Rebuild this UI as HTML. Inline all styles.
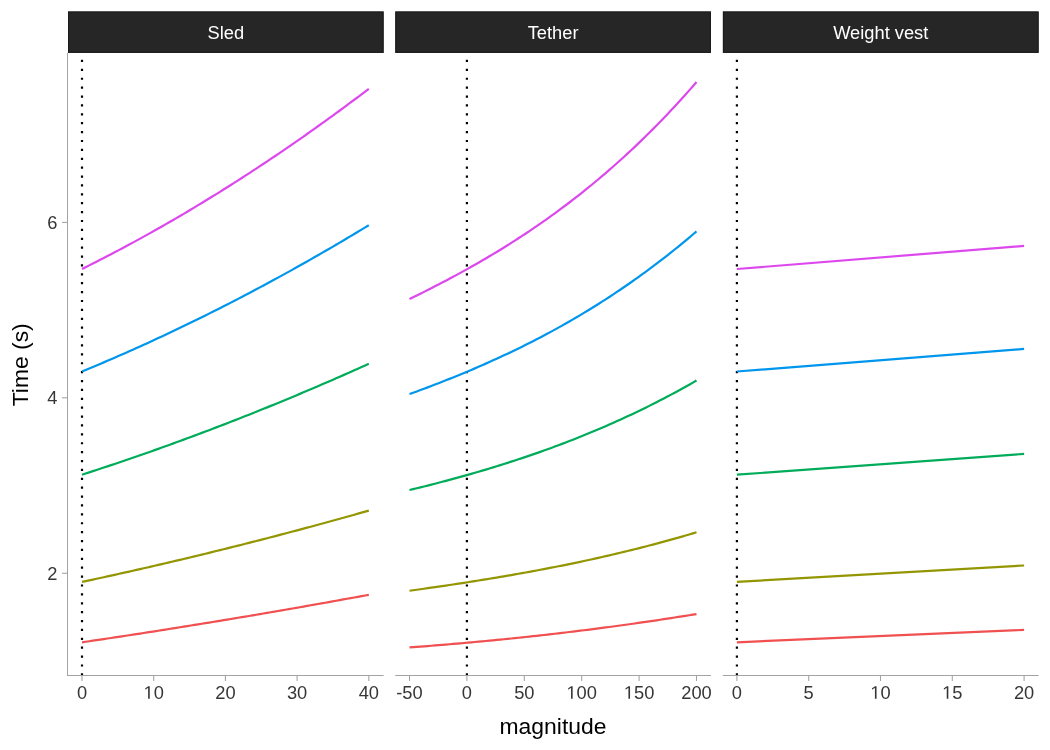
<!DOCTYPE html><html><head><meta charset="utf-8"><style>html,body{margin:0;padding:0;background:#fff;}svg{display:block;will-change:transform;}text{font-family:"Liberation Sans",sans-serif;}</style></head><body>
<svg width="1050" height="750" viewBox="0 0 1050 750">
<rect x="0" y="0" width="1050" height="750" fill="#fff"/>
<rect x="68.0" y="11.5" width="315.60" height="41.35" fill="#262626"/>
<rect x="68.5" y="12.0" width="314.60" height="40.35" fill="none" stroke="#1a1a1a" stroke-width="1"/>
<text x="225.80" y="38.8" font-size="18.3" fill="#ffffff" text-anchor="middle">Sled</text>
<clipPath id="c0"><rect x="68.0" y="52.85" width="315.60" height="622.65"/></clipPath>
<g clip-path="url(#c0)">
<path d="M82.0,675.5 L82.0,53.3" stroke="#000" stroke-width="2.2" stroke-dasharray="2.22 6.67" fill="none"/>
<path d="M82.00,642.30 L85.63,641.77 L89.26,641.23 L92.89,640.69 L96.52,640.15 L100.15,639.61 L103.78,639.07 L107.41,638.53 L111.04,637.98 L114.67,637.43 L118.30,636.88 L121.93,636.33 L125.56,635.78 L129.19,635.23 L132.83,634.67 L136.46,634.11 L140.09,633.55 L143.72,632.99 L147.35,632.43 L150.98,631.86 L154.61,631.30 L158.24,630.73 L161.87,630.16 L165.50,629.59 L169.13,629.01 L172.76,628.44 L176.39,627.86 L180.02,627.28 L183.65,626.70 L187.28,626.12 L190.91,625.53 L194.54,624.95 L198.17,624.36 L201.80,623.77 L205.43,623.18 L209.06,622.59 L212.69,621.99 L216.32,621.40 L219.95,620.80 L223.58,620.20 L227.22,619.60 L230.85,619.00 L234.48,618.39 L238.11,617.78 L241.74,617.18 L245.37,616.57 L249.00,615.96 L252.63,615.34 L256.26,614.73 L259.89,614.11 L263.52,613.49 L267.15,612.87 L270.78,612.25 L274.41,611.63 L278.04,611.00 L281.67,610.37 L285.30,609.74 L288.93,609.11 L292.56,608.48 L296.19,607.85 L299.82,607.21 L303.45,606.57 L307.08,605.93 L310.71,605.29 L314.34,604.65 L317.97,604.01 L321.61,603.36 L325.24,602.71 L328.87,602.06 L332.50,601.41 L336.13,600.76 L339.76,600.10 L343.39,599.44 L347.02,598.79 L350.65,598.13 L354.28,597.46 L357.91,596.80 L361.54,596.14 L365.17,595.47 L368.80,594.80" stroke="#F05050" stroke-width="2.2" fill="none" stroke-linejoin="round"/>
<path d="M82.00,581.90 L85.63,581.12 L89.26,580.35 L92.89,579.57 L96.52,578.78 L100.15,577.99 L103.78,577.20 L107.41,576.41 L111.04,575.61 L114.67,574.81 L118.30,574.00 L121.93,573.19 L125.56,572.38 L129.19,571.57 L132.83,570.75 L136.46,569.93 L140.09,569.11 L143.72,568.28 L147.35,567.45 L150.98,566.62 L154.61,565.78 L158.24,564.94 L161.87,564.09 L165.50,563.25 L169.13,562.40 L172.76,561.54 L176.39,560.69 L180.02,559.83 L183.65,558.96 L187.28,558.10 L190.91,557.23 L194.54,556.35 L198.17,555.48 L201.80,554.60 L205.43,553.71 L209.06,552.83 L212.69,551.94 L216.32,551.05 L219.95,550.15 L223.58,549.25 L227.22,548.35 L230.85,547.44 L234.48,546.53 L238.11,545.62 L241.74,544.71 L245.37,543.79 L249.00,542.86 L252.63,541.94 L256.26,541.01 L259.89,540.08 L263.52,539.14 L267.15,538.20 L270.78,537.26 L274.41,536.32 L278.04,535.37 L281.67,534.42 L285.30,533.46 L288.93,532.51 L292.56,531.54 L296.19,530.58 L299.82,529.61 L303.45,528.64 L307.08,527.67 L310.71,526.69 L314.34,525.71 L317.97,524.72 L321.61,523.74 L325.24,522.74 L328.87,521.75 L332.50,520.75 L336.13,519.75 L339.76,518.75 L343.39,517.74 L347.02,516.73 L350.65,515.72 L354.28,514.70 L357.91,513.68 L361.54,512.66 L365.17,511.63 L368.80,510.60" stroke="#939600" stroke-width="2.2" fill="none" stroke-linejoin="round"/>
<path d="M82.00,474.70 L85.63,473.53 L89.26,472.35 L92.89,471.17 L96.52,469.98 L100.15,468.78 L103.78,467.58 L107.41,466.38 L111.04,465.16 L114.67,463.94 L118.30,462.72 L121.93,461.49 L125.56,460.25 L129.19,459.01 L132.83,457.76 L136.46,456.50 L140.09,455.24 L143.72,453.98 L147.35,452.70 L150.98,451.43 L154.61,450.14 L158.24,448.85 L161.87,447.55 L165.50,446.25 L169.13,444.94 L172.76,443.63 L176.39,442.31 L180.02,440.98 L183.65,439.65 L187.28,438.31 L190.91,436.97 L194.54,435.62 L198.17,434.26 L201.80,432.90 L205.43,431.53 L209.06,430.16 L212.69,428.78 L216.32,427.39 L219.95,426.00 L223.58,424.60 L227.22,423.20 L230.85,421.79 L234.48,420.37 L238.11,418.95 L241.74,417.52 L245.37,416.09 L249.00,414.65 L252.63,413.20 L256.26,411.75 L259.89,410.29 L263.52,408.83 L267.15,407.36 L270.78,405.89 L274.41,404.41 L278.04,402.92 L281.67,401.43 L285.30,399.93 L288.93,398.42 L292.56,396.91 L296.19,395.39 L299.82,393.87 L303.45,392.34 L307.08,390.81 L310.71,389.26 L314.34,387.72 L317.97,386.17 L321.61,384.61 L325.24,383.04 L328.87,381.47 L332.50,379.89 L336.13,378.31 L339.76,376.72 L343.39,375.13 L347.02,373.53 L350.65,371.92 L354.28,370.31 L357.91,368.69 L361.54,367.07 L365.17,365.44 L368.80,363.80" stroke="#00AC5A" stroke-width="2.2" fill="none" stroke-linejoin="round"/>
<path d="M82.00,371.50 L85.63,370.00 L89.26,368.49 L92.89,366.97 L96.52,365.45 L100.15,363.91 L103.78,362.37 L107.41,360.81 L111.04,359.25 L114.67,357.68 L118.30,356.10 L121.93,354.51 L125.56,352.91 L129.19,351.30 L132.83,349.69 L136.46,348.06 L140.09,346.42 L143.72,344.78 L147.35,343.13 L150.98,341.47 L154.61,339.79 L158.24,338.11 L161.87,336.42 L165.50,334.73 L169.13,333.02 L172.76,331.30 L176.39,329.58 L180.02,327.84 L183.65,326.10 L187.28,324.35 L190.91,322.59 L194.54,320.81 L198.17,319.04 L201.80,317.25 L205.43,315.45 L209.06,313.64 L212.69,311.83 L216.32,310.00 L219.95,308.17 L223.58,306.32 L227.22,304.47 L230.85,302.61 L234.48,300.74 L238.11,298.86 L241.74,296.97 L245.37,295.08 L249.00,293.17 L252.63,291.26 L256.26,289.33 L259.89,287.40 L263.52,285.46 L267.15,283.51 L270.78,281.55 L274.41,279.58 L278.04,277.60 L281.67,275.61 L285.30,273.61 L288.93,271.61 L292.56,269.59 L296.19,267.57 L299.82,265.54 L303.45,263.50 L307.08,261.44 L310.71,259.39 L314.34,257.32 L317.97,255.24 L321.61,253.15 L325.24,251.06 L328.87,248.95 L332.50,246.84 L336.13,244.71 L339.76,242.58 L343.39,240.44 L347.02,238.29 L350.65,236.13 L354.28,233.96 L357.91,231.79 L361.54,229.60 L365.17,227.40 L368.80,225.20" stroke="#0096ED" stroke-width="2.2" fill="none" stroke-linejoin="round"/>
<path d="M82.00,269.00 L85.63,267.19 L89.26,265.38 L92.89,263.55 L96.52,261.70 L100.15,259.85 L103.78,257.98 L107.41,256.10 L111.04,254.21 L114.67,252.31 L118.30,250.39 L121.93,248.46 L125.56,246.52 L129.19,244.57 L132.83,242.61 L136.46,240.63 L140.09,238.64 L143.72,236.64 L147.35,234.63 L150.98,232.60 L154.61,230.56 L158.24,228.51 L161.87,226.45 L165.50,224.38 L169.13,222.29 L172.76,220.19 L176.39,218.08 L180.02,215.96 L183.65,213.83 L187.28,211.68 L190.91,209.52 L194.54,207.35 L198.17,205.17 L201.80,202.97 L205.43,200.76 L209.06,198.54 L212.69,196.31 L216.32,194.06 L219.95,191.81 L223.58,189.54 L227.22,187.26 L230.85,184.96 L234.48,182.66 L238.11,180.34 L241.74,178.01 L245.37,175.67 L249.00,173.32 L252.63,170.95 L256.26,168.57 L259.89,166.18 L263.52,163.78 L267.15,161.36 L270.78,158.94 L274.41,156.50 L278.04,154.05 L281.67,151.58 L285.30,149.11 L288.93,146.62 L292.56,144.12 L296.19,141.60 L299.82,139.08 L303.45,136.54 L307.08,133.99 L310.71,131.43 L314.34,128.86 L317.97,126.27 L321.61,123.68 L325.24,121.07 L328.87,118.45 L332.50,115.81 L336.13,113.17 L339.76,110.51 L343.39,107.84 L347.02,105.15 L350.65,102.46 L354.28,99.75 L357.91,97.03 L361.54,94.30 L365.17,91.56 L368.80,88.80" stroke="#DD48EE" stroke-width="2.2" fill="none" stroke-linejoin="round"/>
</g>
<rect x="67" y="675" width="316.60" height="1" fill="#a3a3a3"/>
<line x1="82.0" y1="675.5" x2="82.0" y2="681" stroke="#a3a3a3" stroke-width="1.07"/>
<text x="82.0" y="698.80" font-size="18.3" fill="#363636" text-anchor="middle">0</text>
<line x1="153.7" y1="675.5" x2="153.7" y2="681" stroke="#a3a3a3" stroke-width="1.07"/>
<path d="M515,0 L515,1237 L197,1010 L197,1180 L530,1409 L696,1409 L696,0 Z" fill="#363636" transform="translate(143.522,698.80) scale(0.008936,-0.008936)"/><text x="153.700" y="698.80" font-size="18.3" fill="#363636">0</text>
<line x1="225.4" y1="675.5" x2="225.4" y2="681" stroke="#a3a3a3" stroke-width="1.07"/>
<text x="225.4" y="698.80" font-size="18.3" fill="#363636" text-anchor="middle">20</text>
<line x1="297.1" y1="675.5" x2="297.1" y2="681" stroke="#a3a3a3" stroke-width="1.07"/>
<text x="297.1" y="698.80" font-size="18.3" fill="#363636" text-anchor="middle">30</text>
<line x1="368.8" y1="675.5" x2="368.8" y2="681" stroke="#a3a3a3" stroke-width="1.07"/>
<text x="368.8" y="698.80" font-size="18.3" fill="#363636" text-anchor="middle">40</text>
<rect x="395.3" y="11.5" width="315.60" height="41.35" fill="#262626"/>
<rect x="395.8" y="12.0" width="314.60" height="40.35" fill="none" stroke="#1a1a1a" stroke-width="1"/>
<text x="553.10" y="38.8" font-size="18.3" fill="#ffffff" text-anchor="middle">Tether</text>
<clipPath id="c1"><rect x="395.3" y="52.85" width="315.60" height="622.65"/></clipPath>
<g clip-path="url(#c1)">
<path d="M466.9,675.5 L466.9,53.3" stroke="#000" stroke-width="2.2" stroke-dasharray="2.22 6.67" fill="none"/>
<path d="M409.50,647.42 L413.13,647.15 L416.77,646.87 L420.40,646.60 L424.03,646.32 L427.66,646.03 L431.30,645.75 L434.93,645.46 L438.56,645.16 L442.20,644.86 L445.83,644.56 L449.46,644.26 L453.09,643.95 L456.73,643.64 L460.36,643.32 L463.99,643.00 L467.63,642.68 L471.26,642.35 L474.89,642.02 L478.53,641.68 L482.16,641.35 L485.79,641.00 L489.42,640.66 L493.06,640.31 L496.69,639.95 L500.32,639.59 L503.96,639.23 L507.59,638.87 L511.22,638.50 L514.85,638.12 L518.49,637.74 L522.12,637.36 L525.75,636.98 L529.39,636.59 L533.02,636.19 L536.65,635.80 L540.28,635.39 L543.92,634.99 L547.55,634.58 L551.18,634.16 L554.82,633.75 L558.45,633.32 L562.08,632.90 L565.72,632.47 L569.35,632.03 L572.98,631.59 L576.61,631.15 L580.25,630.70 L583.88,630.25 L587.51,629.79 L591.15,629.33 L594.78,628.87 L598.41,628.40 L602.04,627.93 L605.68,627.45 L609.31,626.97 L612.94,626.48 L616.58,625.99 L620.21,625.49 L623.84,624.99 L627.47,624.49 L631.11,623.98 L634.74,623.47 L638.37,622.95 L642.01,622.43 L645.64,621.90 L649.27,621.37 L652.91,620.83 L656.54,620.29 L660.17,619.75 L663.80,619.20 L667.44,618.64 L671.07,618.09 L674.70,617.52 L678.34,616.95 L681.97,616.38 L685.60,615.80 L689.23,615.22 L692.87,614.63 L696.50,614.04" stroke="#F05050" stroke-width="2.2" fill="none" stroke-linejoin="round"/>
<path d="M409.50,590.77 L413.13,590.26 L416.77,589.75 L420.40,589.24 L424.03,588.73 L427.66,588.21 L431.30,587.69 L434.93,587.16 L438.56,586.63 L442.20,586.10 L445.83,585.56 L449.46,585.02 L453.09,584.47 L456.73,583.92 L460.36,583.37 L463.99,582.81 L467.63,582.25 L471.26,581.68 L474.89,581.10 L478.53,580.52 L482.16,579.94 L485.79,579.35 L489.42,578.75 L493.06,578.15 L496.69,577.55 L500.32,576.93 L503.96,576.32 L507.59,575.69 L511.22,575.06 L514.85,574.43 L518.49,573.78 L522.12,573.14 L525.75,572.48 L529.39,571.82 L533.02,571.15 L536.65,570.47 L540.28,569.79 L543.92,569.10 L547.55,568.41 L551.18,567.70 L554.82,566.99 L558.45,566.27 L562.08,565.55 L565.72,564.81 L569.35,564.07 L572.98,563.32 L576.61,562.56 L580.25,561.80 L583.88,561.02 L587.51,560.24 L591.15,559.45 L594.78,558.65 L598.41,557.84 L602.04,557.02 L605.68,556.19 L609.31,555.36 L612.94,554.52 L616.58,553.66 L620.21,552.80 L623.84,551.93 L627.47,551.04 L631.11,550.15 L634.74,549.25 L638.37,548.34 L642.01,547.42 L645.64,546.49 L649.27,545.54 L652.91,544.59 L656.54,543.63 L660.17,542.66 L663.80,541.67 L667.44,540.68 L671.07,539.67 L674.70,538.65 L678.34,537.63 L681.97,536.59 L685.60,535.54 L689.23,534.48 L692.87,533.40 L696.50,532.32" stroke="#939600" stroke-width="2.2" fill="none" stroke-linejoin="round"/>
<path d="M409.50,490.05 L413.13,489.17 L416.77,488.28 L420.40,487.38 L424.03,486.47 L427.66,485.56 L431.30,484.63 L434.93,483.70 L438.56,482.76 L442.20,481.80 L445.83,480.84 L449.46,479.87 L453.09,478.89 L456.73,477.90 L460.36,476.89 L463.99,475.88 L467.63,474.86 L471.26,473.82 L474.89,472.78 L478.53,471.72 L482.16,470.65 L485.79,469.58 L489.42,468.48 L493.06,467.38 L496.69,466.26 L500.32,465.14 L503.96,463.99 L507.59,462.84 L511.22,461.67 L514.85,460.49 L518.49,459.30 L522.12,458.09 L525.75,456.87 L529.39,455.64 L533.02,454.39 L536.65,453.13 L540.28,451.85 L543.92,450.56 L547.55,449.25 L551.18,447.93 L554.82,446.59 L558.45,445.24 L562.08,443.87 L565.72,442.49 L569.35,441.09 L572.98,439.67 L576.61,438.24 L580.25,436.79 L583.88,435.33 L587.51,433.84 L591.15,432.34 L594.78,430.83 L598.41,429.29 L602.04,427.74 L605.68,426.17 L609.31,424.58 L612.94,422.98 L616.58,421.35 L620.21,419.71 L623.84,418.05 L627.47,416.37 L631.11,414.67 L634.74,412.95 L638.37,411.21 L642.01,409.45 L645.64,407.67 L649.27,405.87 L652.91,404.05 L656.54,402.21 L660.17,400.35 L663.80,398.47 L667.44,396.57 L671.07,394.65 L674.70,392.70 L678.34,390.74 L681.97,388.75 L685.60,386.74 L689.23,384.71 L692.87,382.65 L696.50,380.58" stroke="#00AC5A" stroke-width="2.2" fill="none" stroke-linejoin="round"/>
<path d="M409.50,394.07 L413.13,392.75 L416.77,391.42 L420.40,390.07 L424.03,388.72 L427.66,387.35 L431.30,385.98 L434.93,384.59 L438.56,383.18 L442.20,381.77 L445.83,380.34 L449.46,378.89 L453.09,377.43 L456.73,375.96 L460.36,374.47 L463.99,372.97 L467.63,371.45 L471.26,369.92 L474.89,368.37 L478.53,366.81 L482.16,365.22 L485.79,363.62 L489.42,362.01 L493.06,360.37 L496.69,358.72 L500.32,357.05 L503.96,355.36 L507.59,353.66 L511.22,351.93 L514.85,350.19 L518.49,348.42 L522.12,346.64 L525.75,344.83 L529.39,343.00 L533.02,341.16 L536.65,339.29 L540.28,337.40 L543.92,335.49 L547.55,333.55 L551.18,331.60 L554.82,329.62 L558.45,327.62 L562.08,325.59 L565.72,323.54 L569.35,321.47 L572.98,319.37 L576.61,317.25 L580.25,315.10 L583.88,312.93 L587.51,310.73 L591.15,308.51 L594.78,306.26 L598.41,303.98 L602.04,301.68 L605.68,299.35 L609.31,296.99 L612.94,294.60 L616.58,292.19 L620.21,289.75 L623.84,287.28 L627.47,284.78 L631.11,282.25 L634.74,279.69 L638.37,277.10 L642.01,274.48 L645.64,271.83 L649.27,269.15 L652.91,266.44 L656.54,263.70 L660.17,260.92 L663.80,258.12 L667.44,255.28 L671.07,252.40 L674.70,249.50 L678.34,246.56 L681.97,243.59 L685.60,240.58 L689.23,237.55 L692.87,234.47 L696.50,231.36" stroke="#0096ED" stroke-width="2.2" fill="none" stroke-linejoin="round"/>
<path d="M409.50,299.04 L413.13,297.27 L416.77,295.48 L420.40,293.68 L424.03,291.87 L427.66,290.05 L431.30,288.20 L434.93,286.35 L438.56,284.47 L442.20,282.58 L445.83,280.68 L449.46,278.75 L453.09,276.81 L456.73,274.85 L460.36,272.87 L463.99,270.87 L467.63,268.85 L471.26,266.81 L474.89,264.76 L478.53,262.68 L482.16,260.57 L485.79,258.45 L489.42,256.31 L493.06,254.14 L496.69,251.94 L500.32,249.73 L503.96,247.49 L507.59,245.22 L511.22,242.93 L514.85,240.62 L518.49,238.28 L522.12,235.91 L525.75,233.51 L529.39,231.09 L533.02,228.64 L536.65,226.16 L540.28,223.65 L543.92,221.11 L547.55,218.55 L551.18,215.95 L554.82,213.32 L558.45,210.66 L562.08,207.97 L565.72,205.25 L569.35,202.50 L572.98,199.71 L576.61,196.89 L580.25,194.03 L583.88,191.14 L587.51,188.22 L591.15,185.26 L594.78,182.26 L598.41,179.23 L602.04,176.16 L605.68,173.06 L609.31,169.92 L612.94,166.74 L616.58,163.52 L620.21,160.26 L623.84,156.96 L627.47,153.63 L631.11,150.25 L634.74,146.83 L638.37,143.37 L642.01,139.87 L645.64,136.33 L649.27,132.74 L652.91,129.12 L656.54,125.44 L660.17,121.73 L663.80,117.97 L667.44,114.16 L671.07,110.31 L674.70,106.42 L678.34,102.48 L681.97,98.49 L685.60,94.45 L689.23,90.37 L692.87,86.24 L696.50,82.06" stroke="#DD48EE" stroke-width="2.2" fill="none" stroke-linejoin="round"/>
</g>
<rect x="395.3" y="675" width="315.60" height="1" fill="#a3a3a3"/>
<line x1="409.5" y1="675.5" x2="409.5" y2="681" stroke="#a3a3a3" stroke-width="1.07"/>
<text x="409.5" y="698.80" font-size="18.3" fill="#363636" text-anchor="middle">-50</text>
<line x1="466.9" y1="675.5" x2="466.9" y2="681" stroke="#a3a3a3" stroke-width="1.07"/>
<text x="466.9" y="698.80" font-size="18.3" fill="#363636" text-anchor="middle">0</text>
<line x1="524.3" y1="675.5" x2="524.3" y2="681" stroke="#a3a3a3" stroke-width="1.07"/>
<text x="524.3" y="698.80" font-size="18.3" fill="#363636" text-anchor="middle">50</text>
<line x1="581.7" y1="675.5" x2="581.7" y2="681" stroke="#a3a3a3" stroke-width="1.07"/>
<path d="M515,0 L515,1237 L197,1010 L197,1180 L530,1409 L696,1409 L696,0 Z" fill="#363636" transform="translate(566.434,698.80) scale(0.008936,-0.008936)"/><text x="576.611" y="698.80" font-size="18.3" fill="#363636">0</text><text x="586.789" y="698.80" font-size="18.3" fill="#363636">0</text>
<line x1="639.1" y1="675.5" x2="639.1" y2="681" stroke="#a3a3a3" stroke-width="1.07"/>
<path d="M515,0 L515,1237 L197,1010 L197,1180 L530,1409 L696,1409 L696,0 Z" fill="#363636" transform="translate(623.834,698.80) scale(0.008936,-0.008936)"/><text x="634.011" y="698.80" font-size="18.3" fill="#363636">5</text><text x="644.189" y="698.80" font-size="18.3" fill="#363636">0</text>
<line x1="696.5" y1="675.5" x2="696.5" y2="681" stroke="#a3a3a3" stroke-width="1.07"/>
<text x="696.5" y="698.80" font-size="18.3" fill="#363636" text-anchor="middle">200</text>
<rect x="722.9" y="11.5" width="315.70" height="41.35" fill="#262626"/>
<rect x="723.4" y="12.0" width="314.70" height="40.35" fill="none" stroke="#1a1a1a" stroke-width="1"/>
<text x="880.75" y="38.8" font-size="18.3" fill="#ffffff" text-anchor="middle">Weight vest</text>
<clipPath id="c2"><rect x="722.9" y="52.85" width="315.70" height="622.65"/></clipPath>
<g clip-path="url(#c2)">
<path d="M736.9,675.5 L736.9,53.3" stroke="#000" stroke-width="2.2" stroke-dasharray="2.22 6.67" fill="none"/>
<path d="M736.90,642.30 L1024.10,629.90" stroke="#F05050" stroke-width="2.2" fill="none" stroke-linejoin="round"/>
<path d="M736.90,581.90 L1024.10,565.50" stroke="#939600" stroke-width="2.2" fill="none" stroke-linejoin="round"/>
<path d="M736.90,474.70 L1024.10,453.90" stroke="#00AC5A" stroke-width="2.2" fill="none" stroke-linejoin="round"/>
<path d="M736.90,371.50 L1024.10,348.90" stroke="#0096ED" stroke-width="2.2" fill="none" stroke-linejoin="round"/>
<path d="M736.90,269.00 L1024.10,245.90" stroke="#DD48EE" stroke-width="2.2" fill="none" stroke-linejoin="round"/>
</g>
<rect x="722.9" y="675" width="315.70" height="1" fill="#a3a3a3"/>
<line x1="736.9" y1="675.5" x2="736.9" y2="681" stroke="#a3a3a3" stroke-width="1.07"/>
<text x="736.9" y="698.80" font-size="18.3" fill="#363636" text-anchor="middle">0</text>
<line x1="808.7" y1="675.5" x2="808.7" y2="681" stroke="#a3a3a3" stroke-width="1.07"/>
<text x="808.7" y="698.80" font-size="18.3" fill="#363636" text-anchor="middle">5</text>
<line x1="880.5" y1="675.5" x2="880.5" y2="681" stroke="#a3a3a3" stroke-width="1.07"/>
<path d="M515,0 L515,1237 L197,1010 L197,1180 L530,1409 L696,1409 L696,0 Z" fill="#363636" transform="translate(870.322,698.80) scale(0.008936,-0.008936)"/><text x="880.500" y="698.80" font-size="18.3" fill="#363636">0</text>
<line x1="952.3" y1="675.5" x2="952.3" y2="681" stroke="#a3a3a3" stroke-width="1.07"/>
<path d="M515,0 L515,1237 L197,1010 L197,1180 L530,1409 L696,1409 L696,0 Z" fill="#363636" transform="translate(942.122,698.80) scale(0.008936,-0.008936)"/><text x="952.300" y="698.80" font-size="18.3" fill="#363636">5</text>
<line x1="1024.1" y1="675.5" x2="1024.1" y2="681" stroke="#a3a3a3" stroke-width="1.07"/>
<text x="1024.1" y="698.80" font-size="18.3" fill="#363636" text-anchor="middle">20</text>
<rect x="67" y="52.85" width="1" height="623.15" fill="#a3a3a3"/>
<line x1="62" y1="573.24" x2="67.5" y2="573.24" stroke="#a3a3a3" stroke-width="1.07"/>
<text x="57.4" y="579.69" font-size="18.3" fill="#363636" text-anchor="end">2</text>
<line x1="62" y1="397.8" x2="67.5" y2="397.8" stroke="#a3a3a3" stroke-width="1.07"/>
<text x="57.4" y="404.25" font-size="18.3" fill="#363636" text-anchor="end">4</text>
<line x1="62" y1="222.4" x2="67.5" y2="222.4" stroke="#a3a3a3" stroke-width="1.07"/>
<text x="57.4" y="228.85" font-size="18.3" fill="#363636" text-anchor="end">6</text>
<text x="553" y="733.9" font-size="22.9" fill="#000" text-anchor="middle">magnitude</text>
<text transform="translate(27.8,364.8) rotate(-90)" x="0" y="0" font-size="22.9" fill="#000" text-anchor="middle">Time (s)</text>
</svg></body></html>
